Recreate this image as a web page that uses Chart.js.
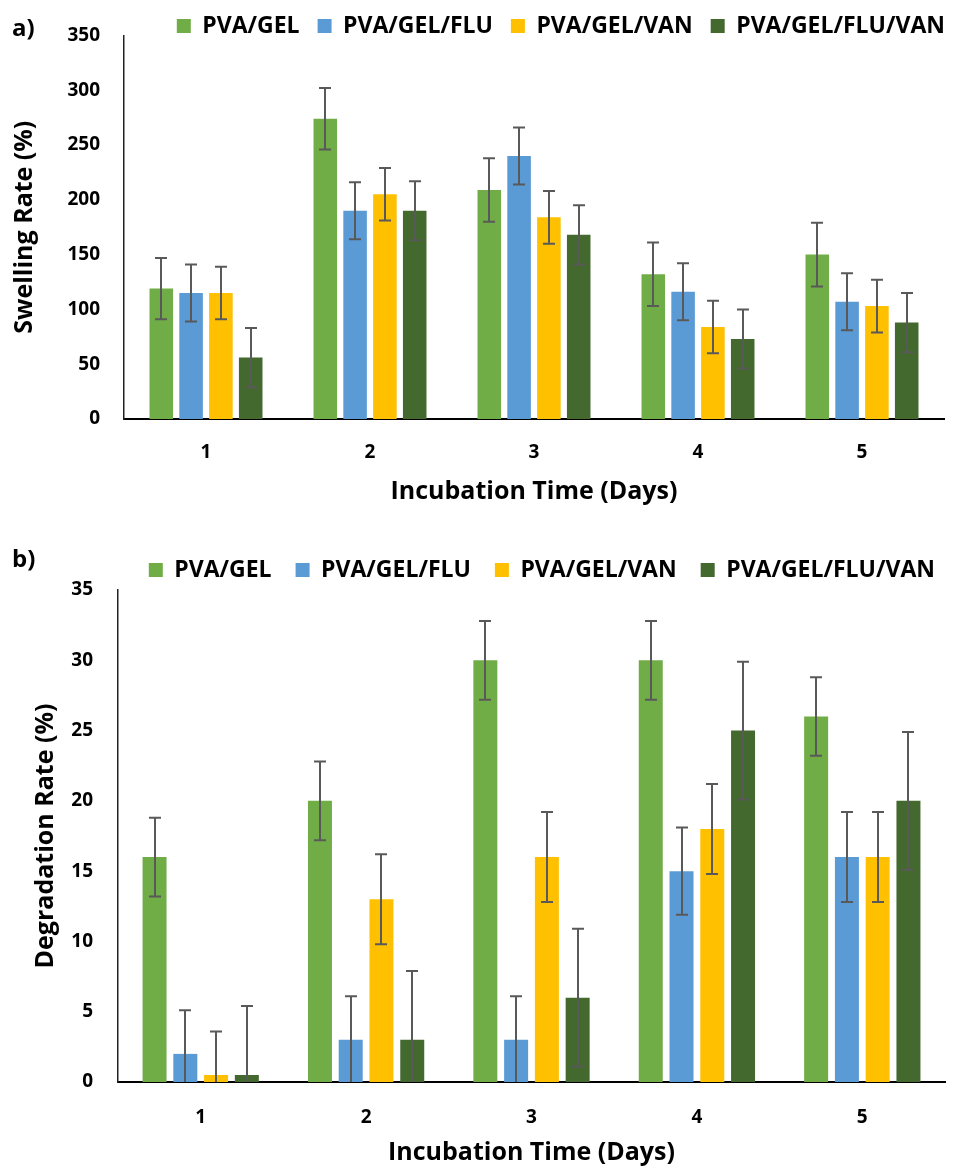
<!DOCTYPE html>
<html><head><meta charset="utf-8">
<script src="https://cdn.jsdelivr.net/npm/chart.js@4.4.0/dist/chart.umd.min.js"></script>
<style>
body{margin:0;background:#fff;width:965px;height:1168px;overflow:hidden;position:relative;font-family:'Open Sans',sans-serif;}
#c1{position:absolute;left:0;top:0;}
#c2{position:absolute;left:0;top:545px;}
.lab{position:absolute;font-weight:bold;font-size:24px;line-height:24px;color:#000;font-family:'Open Sans',sans-serif;}
</style></head><body>
<canvas id="c1" width="965" height="520"></canvas>
<canvas id="c2" width="965" height="623"></canvas>
<div class="lab" style="left:12px;top:15px">a)</div>
<div class="lab" style="left:12px;top:546px">b)</div>
<script>
// ---- data ----
const days = ['1','2','3','4','5'];
const seriesNames = ['PVA/GEL','PVA/GEL/FLU','PVA/GEL/VAN','PVA/GEL/FLU/VAN'];
const seriesColors = ['#70AD47','#5B9BD5','#FFC000','#44692F'];

const swellGEL        = [119, 274, 209, 132, 150];
const swellGELFLU     = [115, 190, 240, 116, 107];
const swellGELVAN     = [115, 205, 184,  84, 103];
const swellGELFLUVAN  = [ 56, 190, 168,  73,  88];
const swellErrGEL       = [28, 28, 29, 29, 29];
const swellErrGELFLU    = [26, 26, 26, 26, 26];
const swellErrGELVAN    = [24, 24, 24, 24, 24];
const swellErrGELFLUVAN = [27, 27, 27, 27, 27];
const swellTicks = [0,50,100,150,200,250,300,350];

const degGEL        = [16, 20, 30, 30, 26];
const degGELFLU     = [ 2,  3,  3, 15, 16];
const degGELVAN     = [0.5, 13, 16, 18, 16];
const degGELFLUVAN  = [0.5,  3,  6, 25, 20];
const degErrGEL       = [2.8, 2.8, 2.8, 2.8, 2.8];
const degErrGELFLU    = [3.1, 3.1, 3.1, 3.1, 3.2];
const degErrGELVAN    = [3.1, 3.2, 3.2, 3.2, 3.2];
const degErrGELFLUVAN = [4.9, 4.9, 4.9, 4.9, 4.9];
const degTicks = [0,5,10,15,20,25,30,35];

// ---- helpers ----
function errorBarPlugin(errs){
  return { id:'errbars', afterDatasetsDraw(chart){
    const ctx = chart.ctx, ys = chart.scales.y;
    ctx.save(); ctx.strokeStyle = '#595959'; ctx.lineWidth = 2;
    chart.data.datasets.forEach((ds, di) => {
      const meta = chart.getDatasetMeta(di);
      meta.data.forEach((bar, i) => {
        const v = ds.data[i], e = errs[di][i];
        const hi = ys.getPixelForValue(v + e);
        const loV = v - e;
        const lo = ys.getPixelForValue(Math.max(loV, 0));
        const x = Math.round(bar.x);
        ctx.beginPath();
        ctx.moveTo(x, hi); ctx.lineTo(x, lo);
        ctx.moveTo(x - 6, hi); ctx.lineTo(x + 6, hi);
        if (loV > 0) { ctx.moveTo(x - 6, lo); ctx.lineTo(x + 6, lo); }
        ctx.stroke();
      });
    });
    ctx.restore();
  }};
}
function legendPlugin(height, topShift, rightEdge){
  return { id:'legendfix',
    beforeLayout(chart){
      const lg = chart.legend;
      if (lg && !lg._wrapped){
        const f = lg.fit.bind(lg);
        lg.fit = function(){ f(); this.height = height; };
        lg._wrapped = true;
      }
    },
    afterLayout(chart){
      const lg = chart.legend;
      if (lg){ lg.top = topShift; lg.bottom = topShift + height + 40; lg.right = rightEdge; }
    }
  };
}
function makeChart(id, datasetsVals, errs, ticks, maxY, stepY, yTitle, cfg){
  const datasets = datasetsVals.map((vals, k) => ({
    label: seriesNames[k], data: vals, backgroundColor: seriesColors[k],
    borderWidth: 0, categoryPercentage: cfg.catPct, barPercentage: cfg.barPct
  }));
  return new Chart(document.getElementById(id), {
    type: 'bar',
    data: { labels: days, datasets },
    options: {
      responsive: false, animation: false,
      layout: { padding: { top: 0, left: 0, right: 965 - cfg.right, bottom: 0 } },
      plugins: {
        legend: { position: 'top', align: 'end',
          labels: { boxWidth: 14, boxHeight: 14, padding: cfg.legendPad, color: '#000',
            font: { family: 'Open Sans', weight: 'bold', size: cfg.legendSize } } },
        tooltip: { enabled: false }
      },
      scales: {
        x: {
          grid: { display: false, drawTicks: false },
          border: { display: true, color: '#000', width: 2 },
          ticks: { color: '#000', padding: cfg.xTickPad, font: { family: 'Open Sans', weight: 'bold', size: 19 } },
          title: { display: true, text: 'Incubation Time (Days)', color: '#000',
            font: { family: 'Open Sans', weight: 'bold', size: 25 }, padding: { top: 0, bottom: cfg.xTitlePad } },
          afterFit(s){ s.height = cfg.xHeight; }
        },
        y: {
          min: 0, max: maxY,
          grid: { display: false, drawTicks: false },
          border: { display: true, color: '#222', width: 1.5 },
          ticks: { stepSize: stepY, color: '#000', padding: cfg.yTickPad,
            font: { family: 'Open Sans', weight: 'bold', size: 19 },
            callback: (v) => ticks.includes(v) ? String(v) : null },
          title: { display: true, text: yTitle, color: '#000',
            font: { family: 'Open Sans', weight: 'bold', size: 25 }, padding: { top: cfg.yTitlePad, bottom: 0 } },
          afterFit(s){ s.width = cfg.yWidth; }
        }
      }
    },
    plugins: [errorBarPlugin(errs), legendPlugin(cfg.legendH, cfg.legendTop, cfg.legendRight)]
  });
}

makeChart('c1',
  [swellGEL, swellGELFLU, swellGELVAN, swellGELFLUVAN],
  [swellErrGEL, swellErrGELFLU, swellErrGELVAN, swellErrGELFLUVAN],
  swellTicks, 350, 50, 'Swelling Rate (%)',
  { catPct: 0.727, barPct: 0.79, right: 944, yWidth: 124, xHeight: 101, xTickPad: 22, xTitlePad: 13,
    yTickPad: 24, yTitlePad: 10, legendH: 31, legendTop: -3.5, legendRight: 963, legendSize: 23, legendPad: 18 });

makeChart('c2',
  [degGEL, degGELFLU, degGELVAN, degGELFLUVAN],
  [degErrGEL, degErrGELFLU, degErrGELVAN, degErrGELFLUVAN],
  degTicks, 35, 5, 'Degradation Rate (%)',
  { catPct: 0.744, barPct: 0.78, right: 945, yWidth: 118, xHeight: 86, xTickPad: 24, xTitlePad: 0,
    yTickPad: 25, yTitlePad: 31, legendH: 45, legendTop: -10.5, legendRight: 959, legendSize: 23, legendPad: 24 });
</script>
</body></html>
